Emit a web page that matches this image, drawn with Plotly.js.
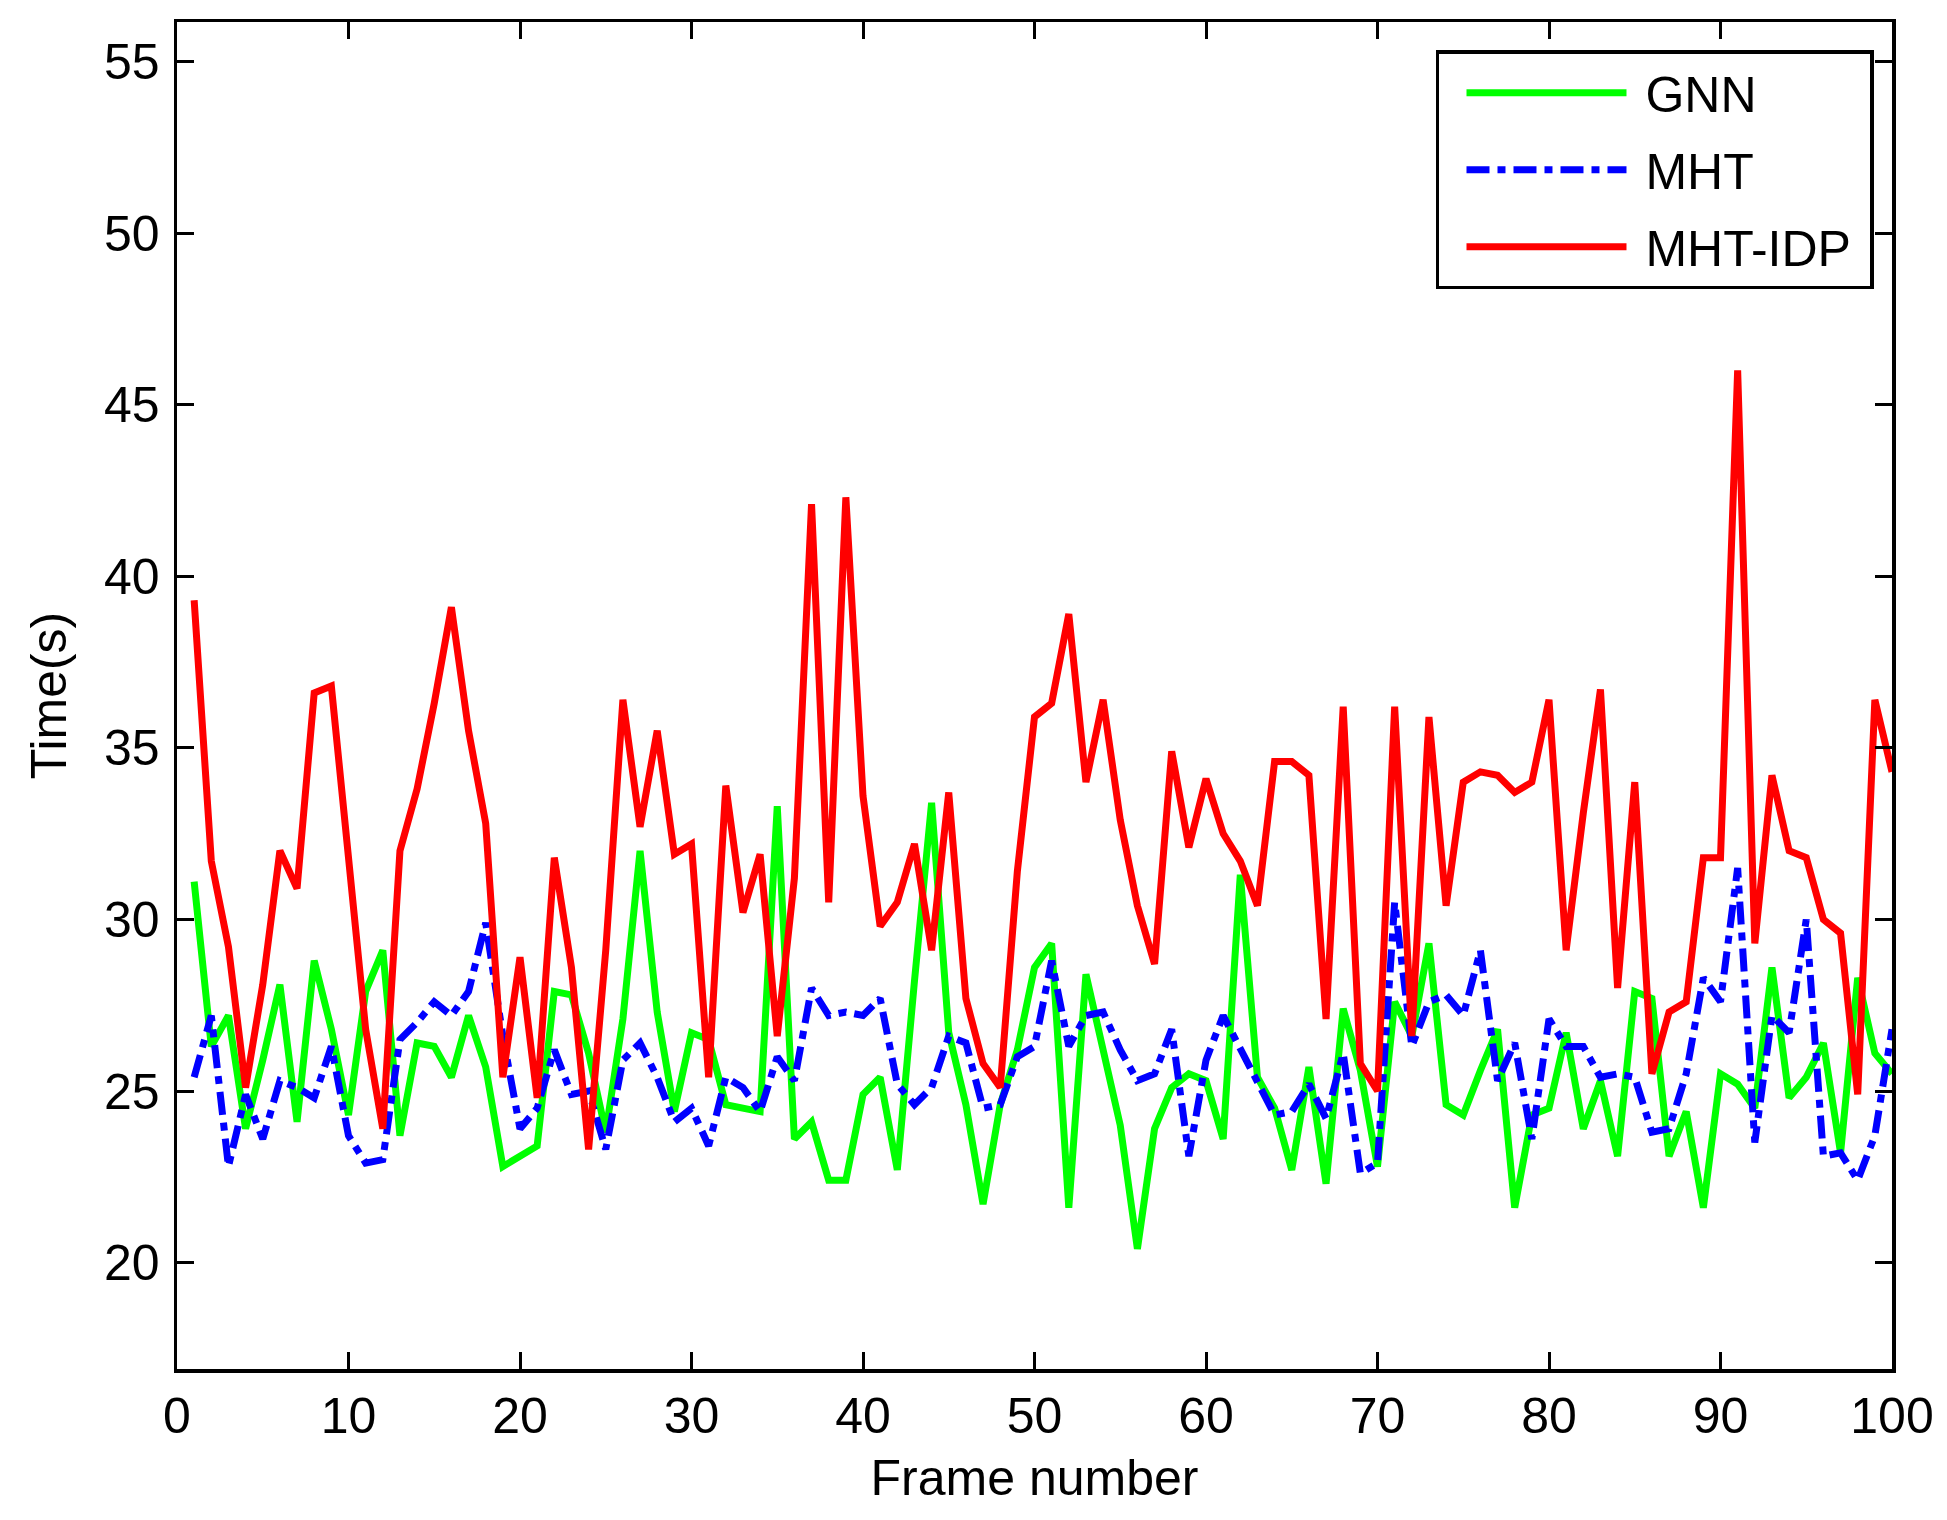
<!DOCTYPE html>
<html>
<head>
<meta charset="utf-8">
<script src="https://cdn.plot.ly/plotly-3.0.1.min.js"></script>
<style>html,body{margin:0;padding:0;background:#fff;}</style>
</head>
<body>
<div id="chart" style="width:1947px;height:1520px;"></div>
<script>
const frames = [1,2,3,4,5,6,7,8,9,10,11,12,13,14,15,16,17,18,19,20,
  21,22,23,24,25,26,27,28,29,30,31,32,33,34,35,36,37,38,39,40,
  41,42,43,44,45,46,47,48,49,50,51,52,53,54,55,56,57,58,59,60,
  61,62,63,64,65,66,67,68,69,70,71,72,73,74,75,76,77,78,79,80,
  81,82,83,84,85,86,87,88,89,90,91,92,93,94,95,96,97,98,99,100];

const gnn = [31.1,26.3,27.2,23.9,25.9,28.1,24.1,28.8,26.8,24.3,27.9,29.1,23.7,26.4,26.3,25.4,27.2,25.7,22.8,23.1,
  23.4,27.9,27.8,26.1,23.8,27.1,32.0,27.3,24.4,26.7,26.5,24.6,24.5,24.4,33.3,23.6,24.1,22.4,22.4,24.9,
  25.4,22.7,28.2,33.4,26.7,24.6,21.7,24.6,26.2,28.6,29.3,21.6,28.4,26.2,24.0,20.4,23.9,25.1,25.5,25.3,
  23.6,31.3,25.4,24.5,22.7,25.7,22.3,27.4,25.6,22.8,27.6,26.6,29.3,24.6,24.3,25.6,26.8,21.6,24.3,24.5,
  26.7,23.9,25.3,23.1,27.9,27.7,23.1,24.4,21.6,25.5,25.2,24.5,28.6,24.8,25.4,26.4,23.2,28.3,26.1,25.5];

const mht = [25.4,27.2,22.8,24.9,23.6,25.3,25.1,24.8,26.3,23.7,22.9,23.0,26.5,27.0,27.6,27.2,27.9,29.9,26.6,23.9,
  24.5,26.2,24.9,25.0,23.3,25.9,26.4,25.4,24.1,24.5,23.4,25.4,25.1,24.4,26.0,25.3,28.0,27.2,27.3,27.2,
  27.7,25.2,24.6,25.1,26.6,26.4,24.5,24.6,26.0,26.3,28.8,26.3,27.2,27.3,26.2,25.3,25.5,26.8,23.1,25.9,
  27.2,26.2,25.2,24.3,24.4,25.2,24.2,26.1,22.6,22.9,30.5,26.3,27.6,27.8,27.2,29.1,25.3,26.4,23.6,27.1,
  26.3,26.3,25.4,25.5,25.4,23.8,23.9,25.5,28.3,27.6,31.5,23.5,27.2,26.7,30.0,23.1,23.2,22.4,23.7,26.8];

const mhtIdp = [39.3,31.7,29.2,25.1,28.1,32.0,30.9,36.6,36.8,31.8,26.8,23.9,32.0,33.8,36.3,39.1,35.5,32.8,25.4,28.9,
  24.8,31.8,28.6,23.3,29.1,36.4,32.7,35.5,31.9,32.2,25.4,33.9,30.2,31.9,26.6,31.2,42.1,30.5,42.3,33.6,
  29.8,30.5,32.2,29.1,33.7,27.7,25.8,25.1,31.4,35.9,36.3,38.9,34.0,36.4,32.9,30.4,28.7,34.9,32.1,34.1,
  32.5,31.7,30.4,34.6,34.6,34.2,27.1,36.2,25.8,25.0,36.2,26.6,35.9,30.4,34.0,34.3,34.2,33.7,34.0,36.4,
  29.1,33.1,36.7,28.0,34.0,25.5,27.3,27.6,31.8,31.8,46.0,29.3,34.2,32.0,31.8,30.0,29.6,24.9,36.4,34.3];

const xTicks = [0,10,20,30,40,50,60,70,80,90,100];
const yTicks = [20,25,30,35,40,45,50,55];
const seriesNames = ['GNN','MHT','MHT-IDP'];

const FONT = 'Liberation Sans, Arial, Helvetica, sans-serif';
const NB = '\u00a0';

const traces = [
  {x: frames, y: gnn, name: NB + seriesNames[0], legendgroup: 'g1', type: 'scatter', mode: 'lines',
   line: {color: '#00ff00', width: 7}},
  {x: frames, y: mht, name: NB + seriesNames[1], legendgroup: 'g2', type: 'scatter', mode: 'lines',
   line: {color: '#0000ff', width: 7, dash: '23px,8px,8px,8px'}},
  {x: frames, y: mhtIdp, name: NB + seriesNames[2] + NB, legendgroup: 'g3', type: 'scatter', mode: 'lines',
   line: {color: '#ff0000', width: 7}}
];

const axisCommon = {
  showgrid: false, zeroline: false,
  showline: true, linecolor: 'black', linewidth: 3.5,
  mirror: 'ticks', ticks: 'inside', ticklen: 17, tickwidth: 3, tickcolor: 'black',
  tickfont: {family: FONT, size: 50, color: 'black'}
};

const layout = {
  width: 1947, height: 1520,
  margin: {l: 177, r: 55, t: 22, b: 151, pad: 0},
  paper_bgcolor: 'white', plot_bgcolor: 'white',
  font: {family: FONT, size: 50, color: 'black'},
  showlegend: true,
  xaxis: Object.assign({}, axisCommon, {
    range: [0, 100], tickmode: 'array', tickvals: xTicks, ticktext: xTicks.map(String),
    ticklabelstandoff: 0,
    title: {text: 'Frame number', font: {family: FONT, size: 50, color: 'black'}, standoff: 18}
  }),
  yaxis: Object.assign({}, axisCommon, {
    range: [16.9, 56.15], tickmode: 'array', tickvals: yTicks, ticktext: yTicks.map(String),
    ticklabelstandoff: 4,
    title: {text: 'Time(s)', font: {family: FONT, size: 50, color: 'black'}, standoff: 22}
  }),
  legend: {
    x: 0.9895, y: 0.979, xanchor: 'right', yanchor: 'top',
    bgcolor: 'white', bordercolor: 'black', borderwidth: 3.5,
    font: {family: FONT, size: 50, color: 'black'},
    itemwidth: 160, tracegroupgap: 9, indentation: 22
  }
};

Plotly.newPlot('chart', traces, layout, {displayModeBar: false, staticPlot: true});
</script>
</body>
</html>
